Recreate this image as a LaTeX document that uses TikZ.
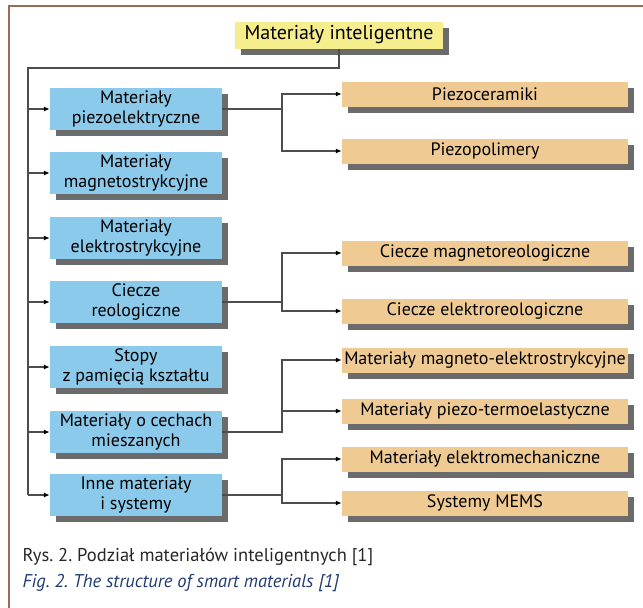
\documentclass[tikz,border=0pt]{standalone}
\usepackage{fontspec}
\setmainfont{PT Sans}
\usepackage{xcolor}
\usetikzlibrary{arrows.meta, positioning, shadows}
\frenchspacing

\definecolor{blueBox}{HTML}{8BCAEA}
\definecolor{tanBox}{HTML}{EFCB93}
\definecolor{yellowBox}{HTML}{F6EE8C}
\definecolor{frameBrown}{HTML}{9A6B58}
\definecolor{lineGray}{HTML}{4D4D4D}
\definecolor{capBlue}{HTML}{1F3B70}

\tikzset{
  box/.style={general shadow={fill=black!58, shadow xshift=6pt, shadow yshift=-6pt},
    inner sep=1pt, align=center, font=\fontsize{18}{20}\selectfont},
  group/.style={box, fill=blueBox, minimum width=172pt, minimum height=42pt},
  leaf/.style={box, fill=tanBox, minimum width=286pt, minimum height=25pt},
  conn/.style={draw=lineGray, line width=1.5pt},
  arr/.style={conn, -{Latex[length=6pt, width=5pt, color=black]}},
}

\begin{document}
\begin{tikzpicture}[x=1pt, y=-1pt]
\useasboundingbox (0,0) rectangle (643,608);
% frame
\draw[frameBrown, line width=1.5pt] (9,608) -- (9,6) -- (643,6);

% root
\node[box, fill=yellowBox, minimum width=208pt, minimum height=27pt,
  font=\fontsize{20}{22}\selectfont] (top) at (339,35) {Materiały inteligentne};

% groups
\node[group] (piezo) at (136,109) {Materiały\\piezoelektryczne};
\node[group] (magneto) at (136,173) {Materiały\\magnetostrykcyjne};
\node[group] (elektro) at (136,238) {Materiały\\elektrostrykcyjne};
\node[group] (ciecze) at (136,302) {Ciecze\\reologiczne};
\node[group] (stopy) at (136,367) {Stopy\\z pamięcią kształtu};
\node[group] (mieszane) at (136,432) {Materiały o cechach\\mieszanych};
\node[group] (inne) at (136,495) {Inne materiały\\i systemy};

% leaves
\node[leaf] (ceram) at (485,94) {Piezoceramiki};
\node[leaf] (polim) at (485,151) {Piezopolimery};
\node[leaf] (mr) at (485,253) {Ciecze magnetoreologiczne};
\node[leaf] (er) at (485,311) {Ciecze elektroreologiczne};
\node[leaf] (me) at (485,360) {Materiały magneto-elektrostrykcyjne};
\node[leaf] (pt) at (485,411) {Materiały piezo-termoelastyczne};
\node[leaf] (em) at (485,459) {Materiały elektromechaniczne};
\node[leaf] (mems) at (485,503) {Systemy MEMS};

% trunk
\coordinate (trunk) at (28,68);
\draw[conn] (top.south) |- (trunk) -- (trunk |- inne.west);
\foreach \g in {piezo,magneto,elektro,ciecze,stopy,mieszane,inne}
  \draw[arr] (trunk |- \g.west) -- (\g.west);

% forks
\foreach \g/\a/\b in {piezo/ceram/polim, ciecze/mr/er, mieszane/me/pt, inne/em/mems} {
  \draw[arr] (\g.east) -- ++(60,0) |- (\a.west);
  \draw[arr] (\g.east) -- ++(60,0) |- (\b.west);
}

% caption
\node[anchor=west, font=\fontsize{18.5}{20}\selectfont, text=black!85] (capPl) at (19,557)
  {Rys. 2. Podział materiałów inteligentnych [1]};
\node[anchor=west, font=\fontsize{18.5}{20}\selectfont\itshape, text=capBlue] (capEn) at (19,583)
  {Fig. 2. The structure of smart materials [1]};
\end{tikzpicture}
\end{document}
